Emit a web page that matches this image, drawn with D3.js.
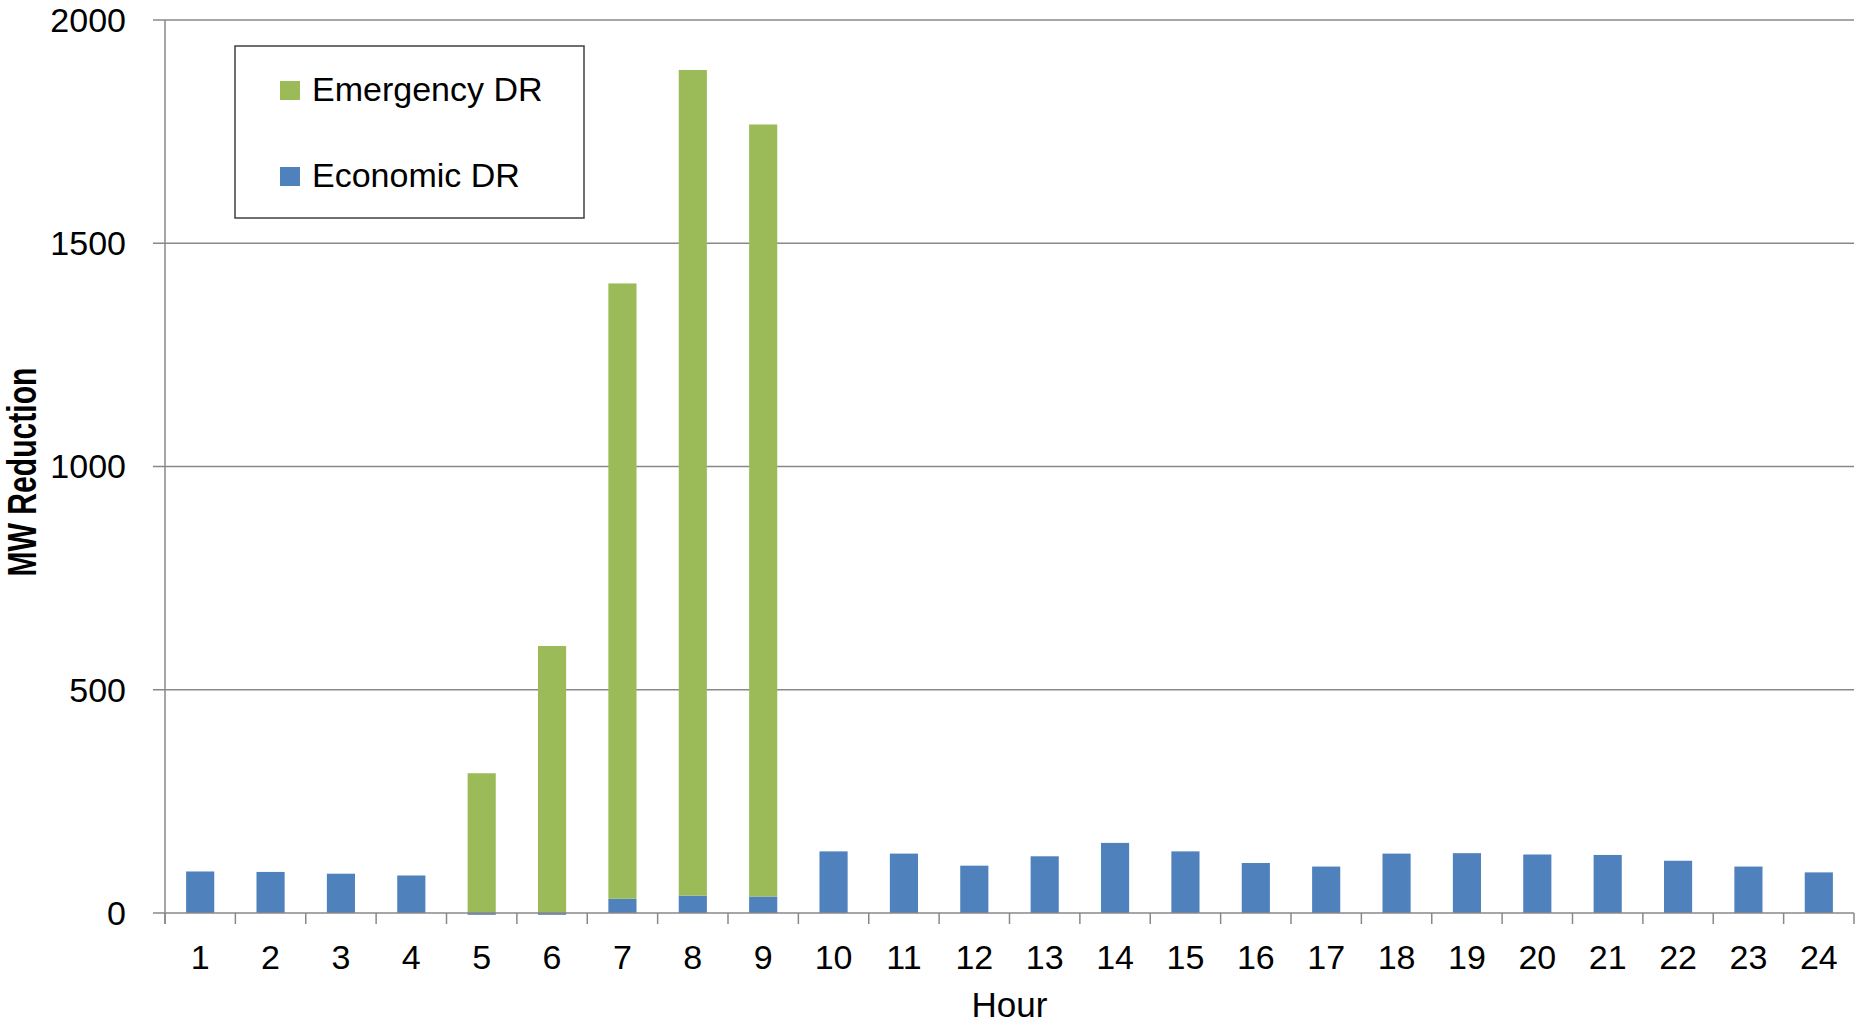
<!DOCTYPE html>
<html>
<head>
<meta charset="utf-8">
<script src="https://cdn.jsdelivr.net/npm/d3@7"></script>
<style>
  body { margin: 0; background: #fff; }
  text { font-family: "Liberation Sans", Arial, sans-serif; fill: #000; }
</style>
</head>
<body>
<div id="chart"></div>
<script>
// Hours on the x axis
var hours = d3.range(1, 25);
// MW reduction per hour
var economicDR = [93, 92, 88, 84, -4, -4, 32, 39, 37, 138, 133, 106, 127, 157, 138, 112, 104, 133, 134, 131, 130, 117, 104, 91];
var emergencyDR = [0, 0, 0, 0, 313, 598, 1378, 1849, 1729, 0, 0, 0, 0, 0, 0, 0, 0, 0, 0, 0, 0, 0, 0, 0];
var yTicks = [0, 500, 1000, 1500, 2000];
var seriesNames = ["Economic DR", "Emergency DR"];
var seriesColors = { "Economic DR": "#4F81BD", "Emergency DR": "#9BBB59" };

var W = 1860, H = 1023;
var plotLeft = 165, plotRight = 1854, plotTop = 20, plotBottom = 913;

var rows = hours.map(function (h, i) {
  return { hour: h, "Economic DR": economicDR[i], "Emergency DR": emergencyDR[i] };
});

var x = d3.scaleBand()
  .domain(hours)
  .range([plotLeft, plotRight])
  .paddingInner(0.6)
  .paddingOuter(0.3);

var y = d3.scaleLinear()
  .domain([0, 2000])
  .range([plotBottom, plotTop]);

var svg = d3.select("#chart")
  .append("svg")
  .attr("width", W)
  .attr("height", H);

// gridlines with outside ticks on the left
svg.append("g")
  .selectAll("line")
  .data(yTicks.filter(function (t) { return t > 0; }))
  .enter()
  .append("line")
  .attr("x1", plotLeft - 12)
  .attr("x2", plotRight)
  .attr("y1", function (d) { return y(d); })
  .attr("y2", function (d) { return y(d); })
  .attr("stroke", "#888")
  .attr("stroke-width", 1.5);

// stacked bars
var stack = d3.stack().keys(seriesNames).offset(d3.stackOffsetDiverging);
var layers = stack(rows);

svg.append("g")
  .selectAll("g")
  .data(layers)
  .enter()
  .append("g")
  .attr("fill", function (d) { return seriesColors[d.key]; })
  .selectAll("rect")
  .data(function (d) { return d; })
  .enter()
  .append("rect")
  .attr("x", function (d) { return x(d.data.hour); })
  .attr("width", x.bandwidth())
  .attr("y", function (d) { return y(Math.max(d[0], d[1])); })
  .attr("height", function (d) { return Math.abs(y(d[0]) - y(d[1])); });

// y axis line
svg.append("line")
  .attr("x1", plotLeft).attr("x2", plotLeft)
  .attr("y1", y(2000)).attr("y2", y(0) + 11)
  .attr("stroke", "#888")
  .attr("stroke-width", 1.5);

// x axis line
svg.append("line")
  .attr("x1", plotLeft - 12).attr("x2", plotRight)
  .attr("y1", y(0)).attr("y2", y(0))
  .attr("stroke", "#888")
  .attr("stroke-width", 1.5);

// x ticks at category boundaries
svg.append("g")
  .selectAll("line")
  .data(d3.range(0, hours.length + 1))
  .enter()
  .append("line")
  .attr("x1", function (i) { return plotLeft + i * x.step(); })
  .attr("x2", function (i) { return plotLeft + i * x.step(); })
  .attr("y1", y(0))
  .attr("y2", y(0) + 11)
  .attr("stroke", "#888")
  .attr("stroke-width", 1.5);

// y tick labels
svg.append("g")
  .selectAll("text")
  .data(yTicks)
  .enter()
  .append("text")
  .attr("x", 126)
  .attr("y", function (d) { return y(d); })
  .attr("dy", "0.35em")
  .attr("text-anchor", "end")
  .style("font-size", "34px")
  .text(function (d) { return d; });

// x tick labels
svg.append("g")
  .selectAll("text")
  .data(hours)
  .enter()
  .append("text")
  .attr("x", function (d) { return x(d) + x.bandwidth() / 2; })
  .attr("y", 969)
  .attr("text-anchor", "middle")
  .style("font-size", "34px")
  .text(function (d) { return d; });

// axis titles
svg.append("text")
  .attr("x", (plotLeft + plotRight) / 2)
  .attr("y", 1017)
  .attr("text-anchor", "middle")
  .style("font-size", "35px")
  .text("Hour");

svg.append("text")
  .attr("transform", "translate(36," + 472 + ") rotate(-90)")
  .attr("text-anchor", "middle")
  .attr("textLength", 209)
  .attr("lengthAdjust", "spacingAndGlyphs")
  .style("font-family", "'Liberation Sans Narrow', 'Liberation Sans', Arial, sans-serif")
  .style("font-weight", "bold")
  .style("font-size", "40px")
  .text("MW Reduction");

// legend
var legend = svg.append("g");
legend.append("rect")
  .attr("x", 235).attr("y", 46)
  .attr("width", 349).attr("height", 172)
  .attr("fill", "#fff")
  .attr("stroke", "#404040")
  .attr("stroke-width", 1.5);

var legendItems = [
  { name: "Emergency DR", base: 101 },
  { name: "Economic DR", base: 187 }
];
legend.selectAll("rect.sw")
  .data(legendItems)
  .enter()
  .append("rect")
  .attr("class", "sw")
  .attr("x", 280)
  .attr("y", function (d) { return d.base - 20; })
  .attr("width", 20)
  .attr("height", 19)
  .attr("fill", function (d) { return seriesColors[d.name]; });
legend.selectAll("text")
  .data(legendItems)
  .enter()
  .append("text")
  .attr("x", 312)
  .attr("y", function (d) { return d.base; })
  .style("font-size", "34px")
  .text(function (d) { return d.name; });
</script>
</body>
</html>
